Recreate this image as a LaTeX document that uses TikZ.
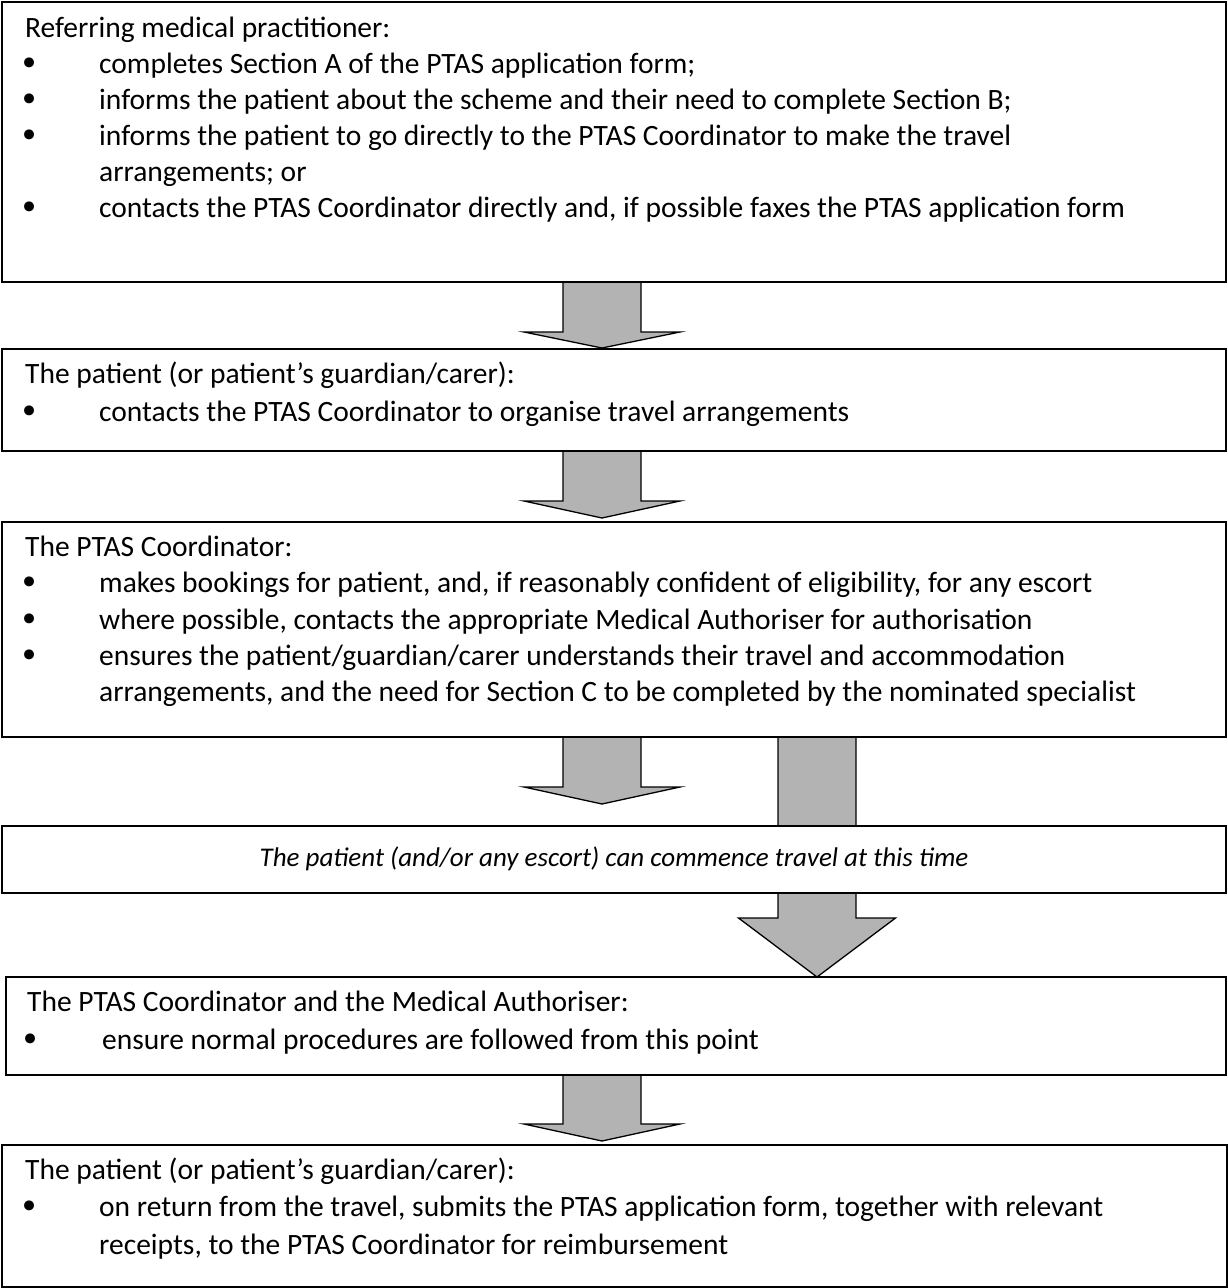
\documentclass[tikz,border=0pt]{standalone}
\usepackage{fontspec}
\setmainfont{Carlito}
\newfontfamily\bulfont{DejaVu Sans}
\usetikzlibrary{backgrounds}
\definecolor{arrowgray}{HTML}{B3B3B3}
\tikzset{
  pics/blockarr/.style n args={4}{code={
    \draw[blk] (-#1,0) -- (-#1,#3) -- (-#2,#3) -- (0,#4) -- (#2,#3) -- (#1,#3) -- (#1,0) -- cycle;}},
}
\begin{document}
\begin{tikzpicture}[x=1pt,y=-1pt,
  box/.style={draw=black, line width=1.6pt, fill=white, rectangle, inner sep=0pt, outer sep=0pt},
  txt/.style={anchor=base west, inner sep=0pt, font=\fontsize{29.5}{37}\selectfont},
  bul/.style={anchor=base, inner sep=0pt, yshift=-2pt, font=\bulfont\fontsize{34}{37}\selectfont},
  itx/.style={anchor=base, inner sep=0pt, font=\fontsize{27}{37}\selectfont\itshape},
  blk/.style={draw=black, line width=1.3pt, fill=arrowgray, line join=miter},
]
\useasboundingbox (0,0) rectangle (1228,1288);

% boxes
\node[box, minimum width=1224pt, minimum height=280pt] (b1) at (614,142) {};
\node[box, minimum width=1224pt, minimum height=102pt] (b2) at (614,400) {};
\node[box, minimum width=1224pt, minimum height=215pt] (b3) at (614,629.5) {};
\node[box, minimum width=1224pt, minimum height=67pt] (b4) at (614,859.5) {};
\node[box, minimum width=1220pt, minimum height=98pt] (b5) at (616,1026) {};
\node[box, minimum width=1225pt, minimum height=142pt] (b6) at (614.5,1216) {};

% block arrows behind the boxes
\coordinate (cx) at (602,0);
\coordinate (cx4) at (817,0);
\begin{scope}[on background layer]
\pic at (cx |- b1.south) {blockarr={39}{78}{50}{66}};
\pic at (cx |- b2.south) {blockarr={39}{78}{50}{67}};
\pic at (cx |- b3.south) {blockarr={39}{78}{50}{67}};
\pic at (cx4 |- b3.south) {blockarr={39}{78.5}{181}{240}};
\pic at (cx |- b5.south) {blockarr={39}{78}{49}{66}};
\end{scope}

% box 1
\node[txt] (t1) at (25,37) {Referring medical practitioner:};
\node[bul] (k1a) at (30,73) {•};
\node[txt] (l1a) at (99,73) {completes Section A of the PTAS application form;};
\node[bul] (k1b) at (30,109) {•};
\node[txt] (l1b) at (99,109) {informs the patient about the scheme and their need to complete Section B;};
\node[bul] (k1c) at (30,145) {•};
\node[txt] (l1c) at (99,145) {informs the patient to go directly to the PTAS Coordinator to make the travel};
\node[txt] (l1d) at (99,181) {arrangements; or};
\node[bul] (k1e) at (30,217) {•};
\node[txt] (l1e) at (99,217) {contacts the PTAS Coordinator directly and, if possible faxes the PTAS application form};

% box 2
\node[txt] (t2) at (25,383) {The patient (or patient’s guardian/carer):};
\node[bul] (k2a) at (30,421) {•};
\node[txt] (l2a) at (99,421) {contacts the PTAS Coordinator to organise travel arrangements};

% box 3
\node[txt] (t3) at (25,556) {The PTAS Coordinator:};
\node[bul] (k3a) at (30,592) {•};
\node[txt] (l3a) at (99,592) {makes bookings for patient, and, if reasonably confident of eligibility, for any escort};
\node[bul] (k3b) at (30,629) {•};
\node[txt] (l3b) at (99,629) {where possible, contacts the appropriate Medical Authoriser for authorisation};
\node[bul] (k3c) at (30,665) {•};
\node[txt] (l3c) at (99,665) {ensures the patient/guardian/carer understands their travel and accommodation};
\node[txt] (l3d) at (99,701) {arrangements, and the need for Section C to be completed by the nominated specialist};

% box 4
\node[itx] (t4) at (614,866) {The patient (and/or any escort) can commence travel at this time};

% box 5
\node[txt] (t5) at (27,1011) {The PTAS Coordinator and the Medical Authoriser:};
\node[bul] (k5a) at (31,1049) {•};
\node[txt] (l5a) at (102,1049) {ensure normal procedures are followed from this point};

% box 6
\node[txt] (t6) at (25,1179) {The patient (or patient’s guardian/carer):};
\node[bul] (k6a) at (30,1216) {•};
\node[txt] (l6a) at (99,1216) {on return from the travel, submits the PTAS application form, together with relevant};
\node[txt] (l6b) at (99,1254) {receipts, to the PTAS Coordinator for reimbursement};
\end{tikzpicture}
\end{document}
